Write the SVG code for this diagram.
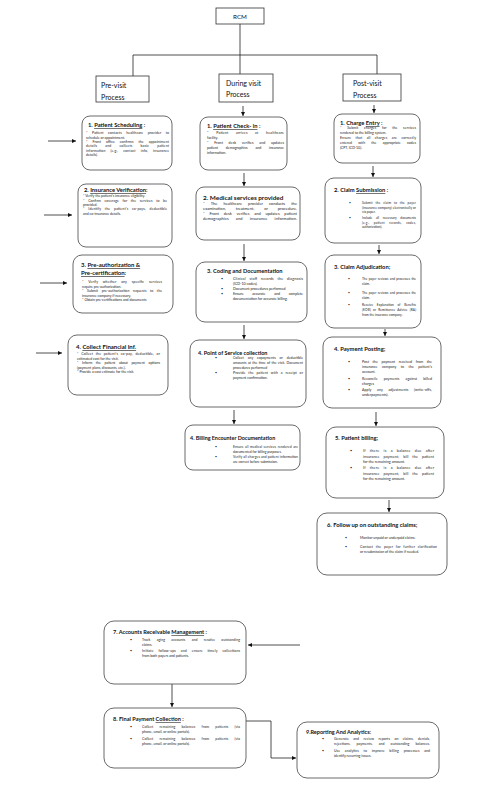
<svg xmlns="http://www.w3.org/2000/svg" width="489" height="800" viewBox="0 0 489 800">
<defs>
<marker id="ah" markerUnits="userSpaceOnUse" markerWidth="4" markerHeight="4" viewBox="0 0 6 6" refX="6" refY="3" orient="auto"><path d="M0,0 L6,3 L0,6 z" fill="#111"/></marker>
<style>
.hdr{fill:#fff;stroke:#333;stroke-width:0.8}
.box{fill:#fff;stroke:#444;stroke-width:0.8}
.h{font-family:Lato,"Liberation Sans",sans-serif;fill:#111}
.t{font-family:Lato,"Liberation Sans",sans-serif;font-weight:700;fill:#111}
.b{font-family:Lato,"Liberation Sans",sans-serif;fill:#1a1a1a}
.u{text-decoration:underline}
.c{stroke:#222;stroke-width:0.8;fill:none}
</style>
</defs>
<rect width="489" height="800" fill="#fff"/>

<g id="connectors">
<path class="c" d="M240,24 V74"/>
<path class="c" d="M133,55 H377"/>
<path class="c" d="M133,55 V76"/>
<path class="c" d="M377,55 V74"/>
<path class="c" d="M243,106 V116" marker-end="url(#ah)"/>
<path class="c" d="M374,105 V113" marker-end="url(#ah)"/>
<path class="c" d="M48,141 H76" marker-end="url(#ah)"/>
<path class="c" d="M44,215 H72" marker-end="url(#ah)"/>
<path class="c" d="M40,283 H67" marker-end="url(#ah)"/>
<path class="c" d="M36,353 H62" marker-end="url(#ah)"/>
<path class="c" d="M244,173 V186" marker-end="url(#ah)"/>
<path class="c" d="M244,244 V261" marker-end="url(#ah)"/>
<path class="c" d="M244,325 V339" marker-end="url(#ah)"/>
<path class="c" d="M234,410 V424" marker-end="url(#ah)"/>
<path class="c" d="M373,166 V177" marker-end="url(#ah)"/>
<path class="c" d="M379,245 V254" marker-end="url(#ah)"/>
<path class="c" d="M385,329 V336" marker-end="url(#ah)"/>
<path class="c" d="M376,412 V426" marker-end="url(#ah)"/>
<path class="c" d="M389,500 V512" marker-end="url(#ah)"/>
<path class="c" d="M300,645 H248" marker-end="url(#ah)"/>
<path class="c" d="M172,684 V707" marker-end="url(#ah)"/>
<path class="c" d="M246,721 H271 V758 H296" marker-end="url(#ah)"/>
</g>

<g id="rcm">
<rect class="hdr" x="216" y="8" width="48" height="16"/>
<text class="h" x="240" y="19" font-size="6.3" text-anchor="middle">RCM</text>
</g>
<g id="pre-visit">
<rect class="hdr" x="96" y="76" width="53" height="26"/>
<text class="h" x="101" y="87.5" font-size="7">Pre-visit</text>
<text class="h" x="101" y="99.5" font-size="7">Process</text>
</g>
<g id="during-visit">
<rect class="hdr" x="219" y="74" width="54" height="28"/>
<text class="h" x="226" y="85.5" font-size="7">During visit</text>
<text class="h" x="226" y="96.5" font-size="7">Process</text>
</g>
<g id="post-visit">
<rect class="hdr" x="343" y="74" width="58" height="27"/>
<text class="h" x="353" y="85.5" font-size="7">Post-visit</text>
<text class="h" x="353" y="97.5" font-size="7">Process</text>
</g>

<g id="pre1">
<rect class="box" x="82" y="116" width="90" height="54" rx="8"/>
<text class="t" x="88" y="127" font-size="5.8">1. <tspan class="u">Patient Scheduling</tspan> :</text>
<g class="b" font-size="3.5">
<text x="86" y="134.2" word-spacing="3.4" textLength="83">* Patient contacts healthcare provider to</text>
<text x="86" y="138.6">schedule or appointment.</text>
<text x="86" y="143" word-spacing="4" textLength="83">* Front office confirms the appointment</text>
<text x="86" y="147.4" word-spacing="7" textLength="83">details and collects basic patient</text>
<text x="86" y="151.8" word-spacing="3.8" textLength="83">information (e.g., contact info, insurance</text>
<text x="86" y="156.2">details).</text>
</g>
</g>

<g id="pre2">
<rect class="box" x="78" y="184" width="94" height="63" rx="8"/>
<text class="t" x="84" y="192" font-size="5.8">2. <tspan class="u">Insurance Verification</tspan>:</text>
<g class="b" font-size="3.5">
<text x="83" y="197.2">* Verify the patient's insurance eligibility.</text>
<text x="83" y="201.6" word-spacing="2.6" textLength="84">* Confirm coverage for the services to be</text>
<text x="83" y="206">provided.</text>
<text x="83" y="210.4" word-spacing="2.6" textLength="84">* Identify the patient's co-pays, deductible</text>
<text x="83" y="214.8">and co-insurance details.</text>
</g>
</g>

<g id="pre3">
<rect class="box" x="73" y="255" width="100" height="58" rx="9"/>
<text class="t" x="81" y="267" font-size="6">3. <tspan class="u">Pre-authorization &amp;</tspan></text>
<text class="t" x="81" y="275" font-size="6"><tspan class="u">Pre-certification</tspan>:</text>
<g class="b" font-size="3.5">
<text x="82" y="283.2" word-spacing="3.8" textLength="80">* Verify whether any specific services</text>
<text x="82" y="287.7">require pre-authorization.</text>
<text x="82" y="292.2" word-spacing="2.5" textLength="80">* Submit pre-authorization requests to the</text>
<text x="82" y="296.7">insurance company if necessary.</text>
<text x="82" y="301.2">* Obtain pre-certifications and documents</text>
</g>
</g>

<g id="pre4">
<rect class="box" x="68" y="335" width="100" height="60" rx="9"/>
<text class="t" x="76" y="349" font-size="6">4. <tspan class="u">Collect Financial Inf.</tspan></text>
<g class="b" font-size="3.5">
<text x="77" y="355.2" word-spacing="1.5" textLength="83">* Collect the patient's co-pay, deductible, or</text>
<text x="77" y="359.7">estimated cost for the visit.</text>
<text x="77" y="364.2" word-spacing="2.6" textLength="83">* Inform the patient about payment options</text>
<text x="77" y="368.7">(payment plans, discounts, etc.).</text>
<text x="77" y="373.2">* Provide a cost estimate for the visit.</text>
</g>
</g>

<g id="during1">
<rect class="box" x="200" y="117" width="87" height="53" rx="8"/>
<text class="t" x="207" y="128" font-size="5.8">1. <tspan class="u">Patient Check- in</tspan> :</text>
<g class="b" font-size="3.6">
<text x="207" y="134.2" word-spacing="6.4" textLength="77">* Patient arrives at healthcare</text>
<text x="207" y="139.2">facility.</text>
<text x="207" y="144.2" word-spacing="4.5" textLength="77">* Front desk verifies and updates</text>
<text x="207" y="149" word-spacing="6.9" textLength="77">patient demographics and insurance</text>
<text x="207" y="153.5">information.</text>
</g>
</g>

<g id="during2">
<rect class="box" x="196" y="187" width="104" height="53" rx="8"/>
<text class="t" x="203" y="199.5" font-size="6.4">2. Medical services provided</text>
<g class="b" font-size="4">
<text x="203" y="205.2" word-spacing="5" textLength="94">* The healthcare provider conducts the</text>
<text x="203" y="210.2" word-spacing="8.7" textLength="94">examination, treatment, or procedure.</text>
<text x="203" y="215.2" word-spacing="3.6" textLength="94">* Front desk verifies and updates patient</text>
<text x="203" y="220" word-spacing="6" textLength="94">demographics and insurance information.</text>
</g>
</g>

<g id="during3">
<rect class="box" x="196" y="262" width="111" height="60" rx="9"/>
<text class="t" x="207" y="273" font-size="5.7">3. Coding and Documentation</text>
<g class="b" font-size="3.6">
<text x="221" y="280.2">•</text>
<text x="233" y="280.2" word-spacing="2.6" textLength="70">Clinical staff records the diagnosis</text>
<text x="233" y="285.2">(ICD-10 codes).</text>
<text x="221" y="290.2">•</text>
<text x="233" y="290.2">Document procedures performed</text>
<text x="221" y="295.2">•</text>
<text x="233" y="295.2" word-spacing="7.9" textLength="70">Ensure accurate and complete</text>
<text x="233" y="300">documentation for accurate billing.</text>
</g>
</g>

<g id="during4">
<rect class="box" x="190" y="340" width="116" height="67" rx="9"/>
<text class="t" x="198" y="355" font-size="5.5">4. Point of Service collection</text>
<g class="b" font-size="3.5">
<text x="215" y="359.2">•</text>
<text x="233" y="359.2" word-spacing="3" textLength="70">Collect any copayments or deductible</text>
<text x="233" y="364.2" word-spacing="0.3" textLength="70">amounts at the time of the visit. Document</text>
<text x="233" y="369.2">procedures performed</text>
<text x="215" y="374.2">•</text>
<text x="233" y="374.2" word-spacing="1.7" textLength="70">Provide the patient with a receipt or</text>
<text x="233" y="379.2">payment confirmation.</text>
</g>
</g>

<g id="during5">
<rect class="box" x="185" y="425" width="115" height="45" rx="8"/>
<text class="t" x="190" y="440" font-size="5.4">4. Billing Encounter Documentation</text>
<g class="b" font-size="3.4">
<text x="215" y="448.2">•</text>
<text x="233" y="448.2" word-spacing="0.5" textLength="65">Ensure all medical services rendered are</text>
<text x="233" y="453.2">documented for billing purposes.</text>
<text x="215" y="458.2">•</text>
<text x="233" y="458.2" textLength="65">Verify all charges and patient information</text>
<text x="233" y="463">are correct before submission.</text>
</g>
</g>

<g id="post1">
<rect class="box" x="334" y="114" width="86" height="49" rx="8"/>
<text class="t" x="340" y="125" font-size="5.8">1. Charge <tspan class="u">Entry</tspan> :</text>
<g class="b" font-size="3.5">
<text x="340" y="129.2" word-spacing="4.6" textLength="76">* Submit charges for the services</text>
<text x="340" y="134.2">rendered to the billing system.</text>
<text x="340" y="139.2" word-spacing="3.3" textLength="76">Ensure that all charges are correctly</text>
<text x="340" y="144.2" word-spacing="5.3" textLength="76">entered with the appropriate codes</text>
<text x="340" y="149.2">(CPT, ICD-10).</text>
</g>
</g>

<g id="post2">
<rect class="box" x="325" y="178" width="96" height="65" rx="9"/>
<text class="t" x="334" y="192" font-size="5.8">2. Claim <tspan class="u">Submission</tspan> :</text>
<g class="b" font-size="3.2">
<text x="349" y="204.2">•</text>
<text x="362" y="204.2" word-spacing="1.7" textLength="54">Submit the claim to the payer</text>
<text x="362" y="208.7" textLength="54">(insurance company) electronically or</text>
<text x="362" y="213.2">via paper.</text>
<text x="349" y="219.2">•</text>
<text x="362" y="219.2" word-spacing="2.8" textLength="54">Include all necessary documents</text>
<text x="362" y="223.7" word-spacing="3.3" textLength="54">(e.g., patient records, codes,</text>
<text x="362" y="228.2">authorization).</text>
</g>
</g>

<g id="post3">
<rect class="box" x="325" y="255" width="96" height="73" rx="9"/>
<text class="t" x="334" y="269" font-size="5.8">3. Claim Adjudication;</text>
<g class="b" font-size="3.2">
<text x="348" y="280.2">•</text>
<text x="362" y="280.2" word-spacing="0.5" textLength="54">The payer reviews and processes the</text>
<text x="362" y="285">claim.</text>
<text x="348" y="294">•</text>
<text x="362" y="294" word-spacing="0.5" textLength="54">The payer reviews and processes the</text>
<text x="362" y="298.5">claim.</text>
<text x="348" y="306.2">•</text>
<text x="362" y="306.2" word-spacing="2.8" textLength="54">Receive Explanation of Benefits</text>
<text x="362" y="311.2" word-spacing="1" textLength="54">(EOB) or Remittance Advice (RA)</text>
<text x="362" y="316.2">from the insurance company.</text>
</g>
</g>

<g id="post4">
<rect class="box" x="323" y="337" width="118" height="71" rx="9"/>
<text class="t" x="334" y="351" font-size="5.8">4. Payment Posting;</text>
<g class="b" font-size="3.6">
<text x="348" y="363.2">•</text>
<text x="362" y="363.2" word-spacing="2.7" textLength="70">Post the payment received from the</text>
<text x="362" y="368.2" word-spacing="3.4" textLength="70">insurance company to the patient's</text>
<text x="362" y="373.2">account.</text>
<text x="348" y="379.7">•</text>
<text x="362" y="379.7" word-spacing="5.1" textLength="70">Reconcile payments against billed</text>
<text x="362" y="384.7">charges</text>
<text x="348" y="391.2">•</text>
<text x="362" y="391.2" word-spacing="4.6" textLength="70">Apply any adjustments (write-offs,</text>
<text x="362" y="396.2">underpayments).</text>
</g>
</g>

<g id="post5">
<rect class="box" x="326" y="427" width="118" height="71" rx="10"/>
<text class="t" x="335" y="440" font-size="5.8">5. Patient billing;</text>
<g class="b" font-size="3.7">
<text x="350" y="452.2">•</text>
<text x="363" y="452.2" word-spacing="3" textLength="71">If there is a balance due after</text>
<text x="363" y="457.7" word-spacing="2.9" textLength="71">insurance payment, bill the patient</text>
<text x="363" y="463.2">for the remaining amount.</text>
<text x="350" y="469.2">•</text>
<text x="363" y="469.2" word-spacing="3" textLength="71">If there is a balance due after</text>
<text x="363" y="474.7" word-spacing="2.9" textLength="71">insurance payment, bill the patient</text>
<text x="363" y="480.2">for the remaining amount.</text>
</g>
</g>

<g id="post6">
<rect class="box" x="317" y="513" width="130" height="62" rx="10"/>
<text class="t" x="327" y="527" font-size="5.8">6. Follow up on outstanding claims;</text>
<g class="b" font-size="3.5">
<text x="345" y="539">•</text>
<text x="360" y="539">Monitor unpaid or underpaid claims.</text>
<text x="345" y="547.5">•</text>
<text x="360" y="547.5" word-spacing="1.6" textLength="77">Contact the payer for further clarification</text>
<text x="360" y="552.5">or resubmission of the claim if needed.</text>
</g>
</g>

<g id="box7">
<rect class="box" x="104" y="621" width="142" height="63" rx="10"/>
<text class="t" x="113" y="634" font-size="5.6">7. Accounts Receivable <tspan class="u">Management</tspan> :</text>
<g class="b" font-size="3.5">
<text x="130" y="640.5">•</text>
<text x="142" y="640.5" word-spacing="5.4" textLength="98">Track aging accounts and resolve outstanding</text>
<text x="142" y="645.5">claims.</text>
<text x="130" y="652">•</text>
<text x="142" y="652" word-spacing="3.8" textLength="98">Initiate follow-ups and ensure timely collections</text>
<text x="142" y="657">from both payers and patients.</text>
</g>
</g>

<g id="box8">
<rect class="box" x="104" y="708" width="142" height="60" rx="10"/>
<text class="t" x="113" y="721" font-size="5.6">8. Final Payment <tspan class="u">Collection</tspan> :</text>
<g class="b" font-size="3.5">
<text x="130" y="728">•</text>
<text x="142" y="728" word-spacing="5.1" textLength="98">Collect remaining balances from patients (via</text>
<text x="142" y="733">phone, email, or online portals).</text>
<text x="130" y="740">•</text>
<text x="142" y="740" word-spacing="5.1" textLength="98">Collect remaining balances from patients (via</text>
<text x="142" y="745">phone, email, or online portals).</text>
</g>
</g>

<g id="box9">
<rect class="box" x="297" y="722" width="142" height="56" rx="10"/>
<text class="t" x="306" y="734" font-size="5.5">9.Reporting And Analytics:</text>
<g class="b" font-size="3.5">
<text x="322" y="740.2">•</text>
<text x="334" y="740.2" word-spacing="3.4" textLength="96">Generate and review reports on claims, denials,</text>
<text x="334" y="745.2" word-spacing="5.1" textLength="96">rejections, payments, and outstanding balances.</text>
<text x="322" y="752">•</text>
<text x="334" y="752" word-spacing="3.7" textLength="96">Use analytics to improve billing processes and</text>
<text x="334" y="757">identify recurring issues.</text>
</g>
</g>
</svg>
